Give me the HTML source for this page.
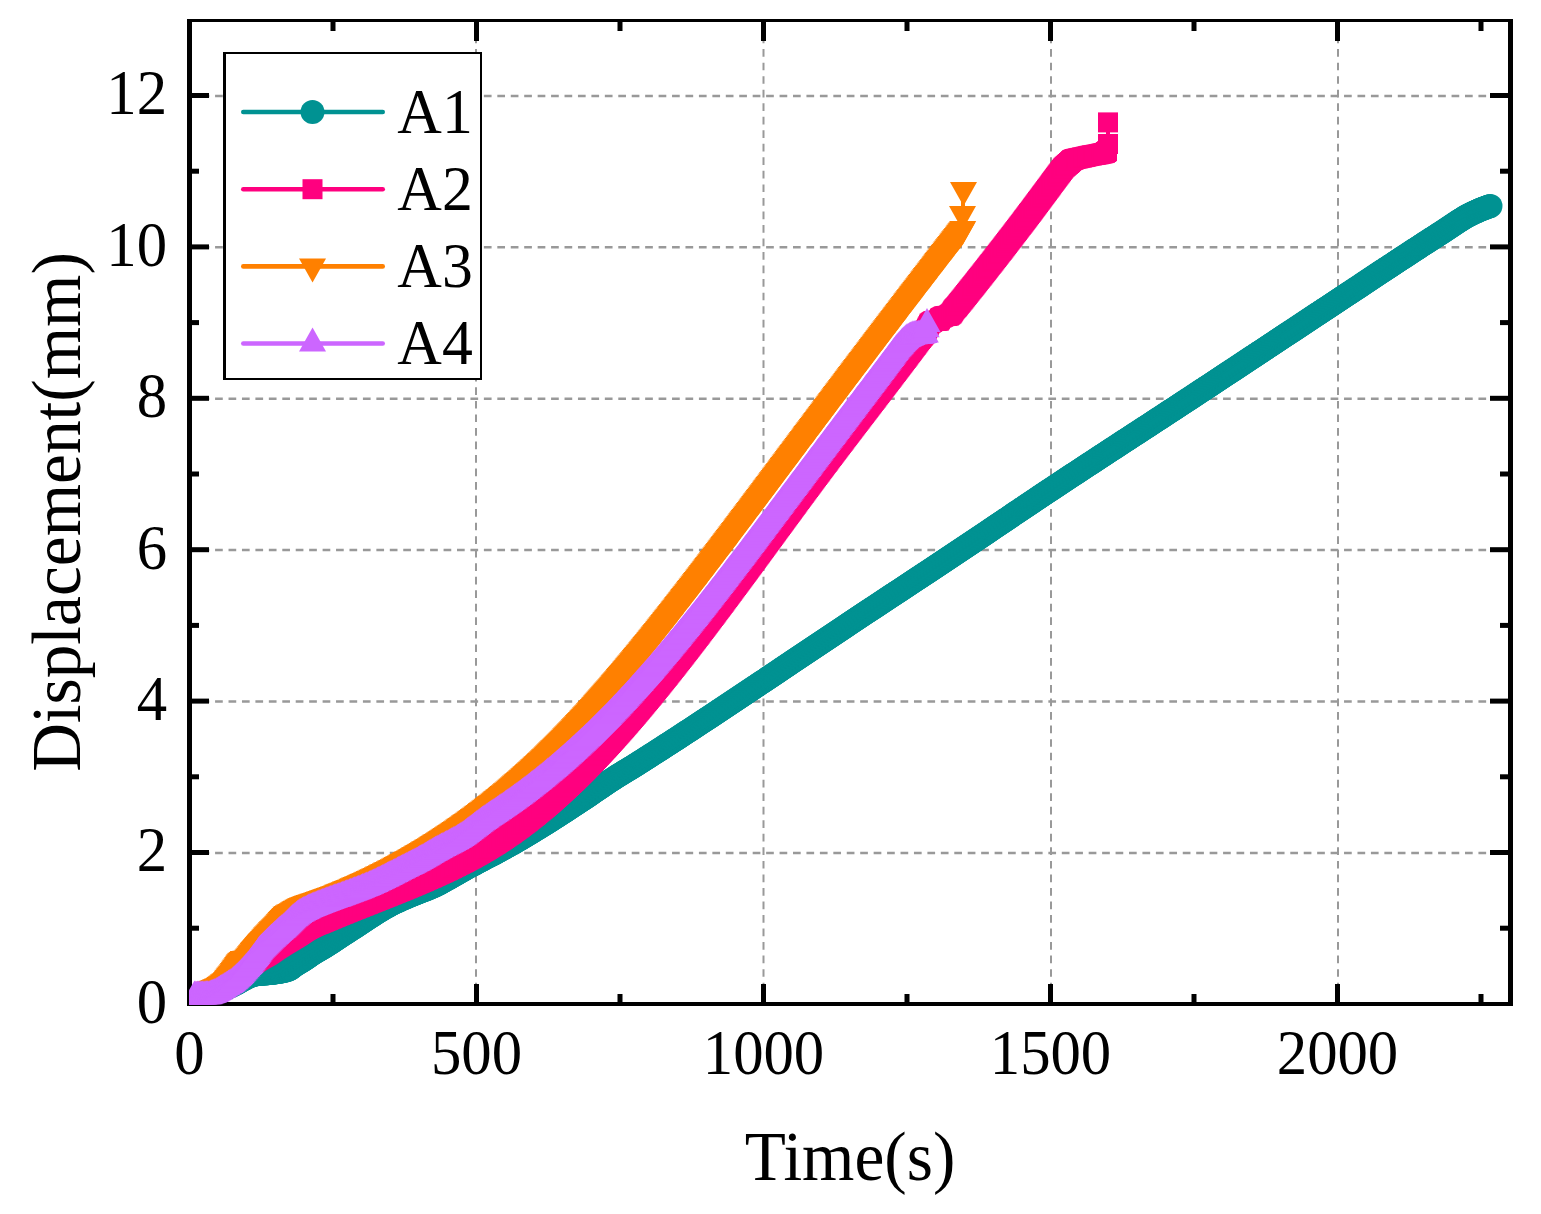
<!DOCTYPE html>
<html lang="en"><head><meta charset="utf-8"><title>Displacement vs Time</title>
<style>html,body{margin:0;padding:0;background:#fff}svg{display:block}text{font-family:"Liberation Serif","Times New Roman",serif;fill:#000}.tk{font-size:62px}.ti{font-size:68px}.lg{font-size:63px}</style></head><body>
<svg width="1541" height="1214" viewBox="0 0 1541 1214">
<rect width="1541" height="1214" fill="#fff"/>
<defs>
<clipPath id="frame"><rect x="189" y="19" width="1324" height="986"/></clipPath>
<marker id="m1" markerUnits="userSpaceOnUse" markerWidth="26" markerHeight="26" refX="13" refY="13" overflow="visible"><circle cx="13" cy="13" r="12" fill="#009292"/></marker>
<marker id="m2" markerUnits="userSpaceOnUse" markerWidth="22" markerHeight="22" refX="11" refY="11" overflow="visible"><rect x="1" y="1" width="20" height="20" fill="#ff007f"/></marker>
<marker id="m3" markerUnits="userSpaceOnUse" markerWidth="30" markerHeight="30" refX="15" refY="15" overflow="visible"><path d="M1.50 7.00H28.50L15 31.00Z" fill="#ff8000"/></marker>
<marker id="m4" markerUnits="userSpaceOnUse" markerWidth="30" markerHeight="30" refX="15" refY="15" overflow="visible"><path d="M1.50 23.00H28.50L15 -1.00Z" fill="#cc66ff"/></marker>
</defs>
<g stroke="#999" stroke-width="2.5" fill="none" stroke-dasharray="7.7 5.74">
<path d="M188.2 852.9H1508"/>
<path d="M188.2 701.5H1508"/>
<path d="M188.2 550.1H1508"/>
<path d="M188.2 398.7H1508"/>
<path d="M188.2 247.3H1508"/>
<path d="M188.2 95.9H1508"/>
</g>
<g stroke="#999" stroke-width="2" fill="none" stroke-dasharray="7.7 5.83">
<path d="M476.0 1003.9V22"/>
<path d="M763.5 1003.9V22"/>
<path d="M1051.0 1003.9V22"/>
<path d="M1338.0 1003.9V22"/>
</g>
<g fill="#000">
<rect x="187" y="19" width="5" height="987"/>
<rect x="1508" y="19" width="5" height="987"/>
<rect x="187" y="19" width="1326" height="3"/>
<rect x="187" y="1002" width="1326" height="4"/>
<rect x="330.5" y="994.0" width="5" height="8.0"/>
<rect x="330.5" y="22" width="5" height="9.0"/>
<rect x="474.0" y="984.0" width="5" height="18.0"/>
<rect x="474.0" y="22" width="5" height="19.0"/>
<rect x="617.5" y="994.0" width="5" height="8.0"/>
<rect x="617.5" y="22" width="5" height="9.0"/>
<rect x="761.0" y="984.0" width="5" height="18.0"/>
<rect x="761.0" y="22" width="5" height="19.0"/>
<rect x="904.5" y="994.0" width="5" height="8.0"/>
<rect x="904.5" y="22" width="5" height="9.0"/>
<rect x="1048.0" y="984.0" width="5" height="18.0"/>
<rect x="1048.0" y="22" width="5" height="19.0"/>
<rect x="1191.5" y="994.0" width="5" height="8.0"/>
<rect x="1191.5" y="22" width="5" height="9.0"/>
<rect x="1335.0" y="984.0" width="5" height="18.0"/>
<rect x="1335.0" y="22" width="5" height="19.0"/>
<rect x="1478.5" y="994.0" width="5" height="8.0"/>
<rect x="1478.5" y="22" width="5" height="9.0"/>
<rect x="192" y="925.7" width="7.0" height="5"/>
<rect x="1500.0" y="925.7" width="8.0" height="5"/>
<rect x="192" y="850.0" width="17.0" height="5"/>
<rect x="1490.0" y="850.0" width="18.0" height="5"/>
<rect x="192" y="774.3" width="7.0" height="5"/>
<rect x="1500.0" y="774.3" width="8.0" height="5"/>
<rect x="192" y="698.6" width="17.0" height="5"/>
<rect x="1490.0" y="698.6" width="18.0" height="5"/>
<rect x="192" y="622.9" width="7.0" height="5"/>
<rect x="1500.0" y="622.9" width="8.0" height="5"/>
<rect x="192" y="547.2" width="17.0" height="5"/>
<rect x="1490.0" y="547.2" width="18.0" height="5"/>
<rect x="192" y="471.5" width="7.0" height="5"/>
<rect x="1500.0" y="471.5" width="8.0" height="5"/>
<rect x="192" y="395.8" width="17.0" height="5"/>
<rect x="1490.0" y="395.8" width="18.0" height="5"/>
<rect x="192" y="320.1" width="7.0" height="5"/>
<rect x="1500.0" y="320.1" width="8.0" height="5"/>
<rect x="192" y="244.4" width="17.0" height="5"/>
<rect x="1490.0" y="244.4" width="18.0" height="5"/>
<rect x="192" y="168.7" width="7.0" height="5"/>
<rect x="1500.0" y="168.7" width="8.0" height="5"/>
<rect x="192" y="93.0" width="17.0" height="5"/>
<rect x="1490.0" y="93.0" width="18.0" height="5"/>
</g>
<text class="tk" text-anchor="middle" transform="translate(189.5 1073.8) scale(0.980 1.025)">0</text>
<text class="tk" text-anchor="middle" transform="translate(476.5 1073.8) scale(0.980 1.025)">500</text>
<text class="tk" text-anchor="middle" transform="translate(763.5 1073.8) scale(0.980 1.025)">1000</text>
<text class="tk" text-anchor="middle" transform="translate(1050.5 1073.8) scale(0.980 1.025)">1500</text>
<text class="tk" text-anchor="middle" transform="translate(1337.5 1073.8) scale(0.980 1.025)">2000</text>
<text class="tk" text-anchor="end" transform="translate(167.0 1022.8) scale(0.980 1.025)">0</text>
<text class="tk" text-anchor="end" transform="translate(167.0 871.4) scale(0.980 1.025)">2</text>
<text class="tk" text-anchor="end" transform="translate(167.0 720.0) scale(0.980 1.025)">4</text>
<text class="tk" text-anchor="end" transform="translate(167.0 568.6) scale(0.980 1.025)">6</text>
<text class="tk" text-anchor="end" transform="translate(167.0 417.2) scale(0.980 1.025)">8</text>
<text class="tk" text-anchor="end" transform="translate(167.0 265.8) scale(0.980 1.025)">10</text>
<text class="tk" text-anchor="end" transform="translate(167.0 114.4) scale(0.980 1.025)">12</text>
<text class="ti" text-anchor="middle" transform="translate(850.0 1179.8) scale(0.990 1.023)">Time(s)</text>
<text class="ti" text-anchor="middle" transform="translate(79.8 512.0) rotate(-90) scale(0.990 1.023)">Displacement(mm)</text>
<g clip-path="url(#frame)" fill="none" stroke-width="4" stroke-linejoin="round" shape-rendering="crispEdges">
<polyline stroke="#009292" marker-start="url(#m1)" marker-mid="url(#m1)" marker-end="url(#m1)" points="204.0,993.0 205.0,992.9 206.0,992.8 207.0,992.7 208.0,992.6 209.0,992.5 210.0,992.3 211.0,992.2 212.0,992.0 213.0,991.8 214.0,991.6 215.0,991.4 216.0,991.2 217.0,990.9 218.0,990.6 219.0,990.3 220.0,990.0 221.0,989.7 222.0,989.4 223.0,989.0 224.0,988.7 225.0,988.4 226.0,988.0 227.0,987.6 228.0,987.2 229.0,986.8 230.0,986.4 231.0,985.9 232.0,985.5 233.0,985.0 234.0,984.5 235.0,984.0 236.0,983.5 237.0,983.0 238.0,982.4 239.0,981.8 240.0,981.2 241.0,980.7 242.0,980.1 243.0,979.5 244.0,979.0 245.0,978.4 246.0,977.9 247.0,977.4 248.0,976.9 249.0,976.4 250.0,976.0 251.0,975.7 252.0,975.3 253.0,975.0 254.0,974.8 255.0,974.5 256.0,974.3 257.0,974.2 258.0,974.1 259.0,974.0 260.0,973.9 261.0,973.8 262.0,973.7 263.0,973.6 264.0,973.6 265.0,973.5 266.0,973.4 267.0,973.3 268.0,973.2 269.0,973.1 270.0,973.0 271.0,972.9 272.0,972.8 273.0,972.7 274.0,972.5 275.0,972.4 276.0,972.3 277.0,972.1 278.0,972.0 279.0,971.8 280.0,971.7 281.0,971.5 282.0,971.3 283.0,971.1 284.0,970.9 285.0,970.6 286.0,970.3 287.0,970.0 288.0,969.7 289.0,969.2 290.0,968.7 291.0,968.2 292.0,967.4 293.0,966.6 294.0,965.8 295.0,965.1 296.0,964.5 297.0,963.8 298.0,963.2 299.0,962.6 300.0,962.0 301.0,961.4 302.0,960.8 303.0,960.2 304.0,959.6 305.0,958.9 306.0,958.3 307.0,957.6 308.0,956.9 309.0,956.2 310.0,955.5 311.0,954.8 312.0,954.1 313.0,953.5 314.0,952.8 315.0,952.2 316.0,951.6 317.0,951.0 318.0,950.4 319.0,949.8 320.0,949.3 321.0,948.7 322.0,948.1 323.0,947.5 324.0,946.9 325.0,946.3 326.0,945.7 327.0,945.0 328.0,944.4 329.0,943.8 330.0,943.1 331.0,942.5 332.0,941.9 332.9,941.2 333.9,940.6 334.9,939.9 335.9,939.2 336.9,938.6 337.9,937.9 338.9,937.3 339.9,936.6 340.9,936.0 341.9,935.3 342.9,934.6 343.9,934.0 344.9,933.3 345.9,932.7 346.9,932.0 347.9,931.4 348.9,930.7 349.9,930.1 350.9,929.4 351.9,928.8 352.9,928.1 353.9,927.5 354.9,926.9 355.9,926.2 356.9,925.6 357.9,924.9 358.9,924.3 359.9,923.6 360.9,922.9 361.9,922.3 362.9,921.6 363.9,921.0 364.9,920.3 365.9,919.6 366.9,919.0 367.9,918.3 368.9,917.6 369.9,917.0 370.9,916.3 371.9,915.7 372.9,915.0 373.9,914.4 374.9,913.7 375.9,913.1 376.9,912.5 377.9,911.8 378.9,911.2 379.9,910.6 380.9,910.0 381.9,909.4 382.9,908.8 383.9,908.2 384.9,907.6 385.9,907.0 386.9,906.5 387.9,905.9 388.9,905.4 389.9,904.8 390.9,904.3 391.9,903.8 392.9,903.3 393.9,902.8 394.9,902.3 395.9,901.8 396.9,901.3 397.9,900.9 398.9,900.4 399.9,900.0 400.9,899.5 401.9,899.1 402.9,898.6 403.9,898.2 404.9,897.8 405.9,897.3 406.9,896.9 407.9,896.5 408.9,896.1 409.9,895.6 410.9,895.2 411.9,894.8 412.9,894.4 413.9,894.0 414.9,893.6 415.9,893.2 416.9,892.8 417.9,892.4 418.9,892.0 419.9,891.6 420.9,891.2 421.9,890.8 422.9,890.5 423.9,890.1 424.9,889.7 425.9,889.3 426.9,888.9 427.9,888.5 428.9,888.1 429.9,887.7 430.9,887.2 431.9,886.8 432.9,886.3 433.9,885.9 434.9,885.4 435.9,884.9 436.9,884.4 437.9,883.9 438.9,883.4 439.9,882.9 440.9,882.4 441.9,881.8 442.9,881.3 443.9,880.7 444.9,880.2 445.9,879.6 446.9,879.1 447.9,878.5 448.9,878.0 449.9,877.4 450.9,876.8 451.9,876.3 452.9,875.7 453.9,875.1 454.9,874.5 455.9,874.0 456.9,873.4 457.9,872.8 458.9,872.2 459.9,871.7 460.9,871.1 461.9,870.5 462.9,869.9 463.9,869.4 464.9,868.8 465.9,868.3 466.9,867.7 467.9,867.1 468.9,866.6 469.9,866.1 470.9,865.5 471.9,865.0 472.9,864.4 473.9,863.9 474.9,863.4 475.9,862.9 476.9,862.3 477.9,861.8 478.9,861.3 479.9,860.8 480.9,860.2 481.9,859.7 482.9,859.2 483.9,858.7 484.9,858.1 485.9,857.6 486.9,857.1 487.9,856.6 488.9,856.1 489.9,855.5 490.9,855.0 491.9,854.5 492.9,854.0 493.9,853.4 494.9,852.9 495.9,852.4 496.9,851.8 497.9,851.3 498.9,850.8 499.9,850.2 500.9,849.7 501.9,849.2 502.9,848.6 503.9,848.1 504.9,847.5 505.9,847.0 506.9,846.4 507.9,845.8 508.9,845.3 509.9,844.7 510.9,844.1 511.9,843.6 512.9,843.0 513.9,842.4 514.9,841.9 515.9,841.3 516.9,840.7 517.9,840.1 518.9,839.5 519.9,838.9 520.9,838.4 521.9,837.8 522.9,837.2 523.9,836.6 524.9,836.0 525.9,835.4 526.9,834.8 527.9,834.2 528.9,833.6 529.9,833.0 530.9,832.4 531.9,831.8 532.9,831.2 533.9,830.6 534.9,829.9 535.9,829.3 536.9,828.7 537.9,828.1 538.9,827.5 539.9,826.9 540.9,826.3 541.9,825.6 542.9,825.0 543.9,824.4 544.9,823.8 545.9,823.2 546.9,822.5 547.9,821.9 548.9,821.3 549.9,820.7 550.9,820.0 551.9,819.4 552.9,818.8 553.9,818.1 554.9,817.5 555.9,816.8 556.9,816.2 557.9,815.6 558.9,814.9 559.9,814.3 560.9,813.6 561.9,813.0 562.9,812.3 563.9,811.7 564.9,811.0 565.9,810.4 566.9,809.7 567.9,809.1 568.9,808.4 569.9,807.8 570.9,807.1 571.9,806.4 572.9,805.8 573.9,805.1 574.9,804.5 575.9,803.8 576.9,803.2 577.9,802.5 578.9,801.8 579.9,801.2 580.9,800.5 581.9,799.8 582.9,799.2 583.9,798.5 584.9,797.9 585.9,797.2 586.9,796.5 587.9,795.9 588.9,795.2 589.9,794.5 590.8,793.9 591.8,793.2 592.8,792.5 593.8,791.8 594.8,791.1 595.8,790.5 596.8,789.8 597.8,789.1 598.8,788.4 599.8,787.7 600.8,787.0 601.8,786.4 602.8,785.7 603.8,785.0 604.8,784.3 605.8,783.7 606.8,783.0 607.8,782.3 608.8,781.6 609.8,781.0 610.8,780.3 611.8,779.7 612.8,779.0 613.8,778.4 614.8,777.7 615.8,777.1 616.8,776.5 617.8,775.8 618.8,775.2 619.8,774.6 620.8,774.0 621.8,773.4 622.8,772.8 623.8,772.1 624.8,771.5 625.8,770.9 626.8,770.3 627.8,769.7 628.8,769.1 629.8,768.5 630.8,767.9 631.8,767.3 632.8,766.7 633.8,766.0 634.8,765.4 635.8,764.8 636.8,764.2 637.8,763.5 638.8,762.9 639.8,762.3 640.8,761.6 641.8,761.0 642.8,760.4 643.8,759.7 644.8,759.1 645.8,758.5 646.8,757.8 647.8,757.2 648.8,756.5 649.8,755.9 650.8,755.3 651.8,754.6 652.8,754.0 653.8,753.4 654.8,752.7 655.8,752.1 656.8,751.4 657.8,750.8 658.8,750.1 659.8,749.5 660.8,748.9 661.8,748.2 662.8,747.6 663.8,746.9 664.8,746.3 665.8,745.6 666.8,745.0 667.8,744.3 668.8,743.7 669.8,743.0 670.8,742.4 671.8,741.7 672.8,741.1 673.8,740.5 674.8,739.8 675.8,739.2 676.8,738.5 677.8,737.9 678.8,737.2 679.8,736.6 680.8,735.9 681.8,735.2 682.8,734.6 683.8,733.9 684.8,733.3 685.8,732.6 686.8,732.0 687.8,731.3 688.8,730.7 689.8,730.0 690.8,729.4 691.8,728.7 692.8,728.1 693.8,727.4 694.8,726.7 695.8,726.1 696.8,725.4 697.8,724.8 698.8,724.1 699.8,723.5 700.8,722.8 701.8,722.1 702.8,721.5 703.8,720.8 704.8,720.2 705.8,719.5 706.8,718.8 707.8,718.2 708.8,717.5 709.8,716.9 710.8,716.2 711.8,715.5 712.8,714.9 713.8,714.2 714.8,713.6 715.8,712.9 716.8,712.2 717.8,711.6 718.8,710.9 719.8,710.2 720.8,709.6 721.8,708.9 722.8,708.3 723.8,707.6 724.8,706.9 725.8,706.3 726.8,705.6 727.8,704.9 728.8,704.3 729.8,703.6 730.8,702.9 731.8,702.3 732.8,701.6 733.8,700.9 734.8,700.3 735.8,699.6 736.8,698.9 737.8,698.3 738.8,697.6 739.8,696.9 740.8,696.3 741.8,695.6 742.8,694.9 743.8,694.3 744.8,693.6 745.8,692.9 746.8,692.3 747.8,691.6 748.8,690.9 749.8,690.3 750.8,689.6 751.8,688.9 752.8,688.3 753.8,687.6 754.8,686.9 755.8,686.3 756.8,685.6 757.8,684.9 758.8,684.3 759.8,683.6 760.8,682.9 761.8,682.2 762.8,681.6 763.8,680.9 764.8,680.2 765.8,679.6 766.8,678.9 767.8,678.2 768.8,677.6 769.8,676.9 770.8,676.2 771.8,675.5 772.8,674.9 773.8,674.2 774.8,673.5 775.8,672.9 776.8,672.2 777.8,671.5 778.8,670.9 779.8,670.2 780.8,669.5 781.8,668.8 782.8,668.2 783.8,667.5 784.8,666.8 785.8,666.2 786.8,665.5 787.8,664.8 788.8,664.2 789.8,663.5 790.8,662.8 791.8,662.1 792.8,661.5 793.8,660.8 794.8,660.1 795.8,659.5 796.8,658.8 797.8,658.1 798.8,657.4 799.8,656.8 800.8,656.1 801.8,655.4 802.8,654.8 803.8,654.1 804.8,653.4 805.8,652.8 806.8,652.1 807.8,651.4 808.8,650.7 809.8,650.1 810.8,649.4 811.8,648.7 812.8,648.1 813.8,647.4 814.8,646.7 815.8,646.1 816.8,645.4 817.8,644.7 818.8,644.1 819.8,643.4 820.8,642.7 821.8,642.1 822.8,641.4 823.8,640.7 824.8,640.0 825.8,639.4 826.8,638.7 827.8,638.0 828.8,637.4 829.8,636.7 830.8,636.0 831.8,635.4 832.8,634.7 833.8,634.0 834.8,633.4 835.8,632.7 836.8,632.0 837.8,631.4 838.8,630.7 839.8,630.0 840.8,629.4 841.8,628.7 842.8,628.0 843.8,627.4 844.8,626.7 845.8,626.1 846.8,625.4 847.7,624.7 848.7,624.1 849.7,623.4 850.7,622.7 851.7,622.1 852.7,621.4 853.7,620.7 854.7,620.1 855.7,619.4 856.7,618.8 857.7,618.1 858.7,617.4 859.7,616.8 860.7,616.1 861.7,615.4 862.7,614.8 863.7,614.1 864.7,613.5 865.7,612.8 866.7,612.1 867.7,611.5 868.7,610.8 869.7,610.2 870.7,609.5 871.7,608.8 872.7,608.2 873.7,607.5 874.7,606.9 875.7,606.2 876.7,605.5 877.7,604.9 878.7,604.2 879.7,603.6 880.7,602.9 881.7,602.2 882.7,601.6 883.7,600.9 884.7,600.3 885.7,599.6 886.7,598.9 887.7,598.3 888.7,597.6 889.7,597.0 890.7,596.3 891.7,595.6 892.7,595.0 893.7,594.3 894.7,593.7 895.7,593.0 896.7,592.3 897.7,591.7 898.7,591.0 899.7,590.4 900.7,589.7 901.7,589.0 902.7,588.4 903.7,587.7 904.7,587.1 905.7,586.4 906.7,585.7 907.7,585.1 908.7,584.4 909.7,583.8 910.7,583.1 911.7,582.4 912.7,581.8 913.7,581.1 914.7,580.5 915.7,579.8 916.7,579.1 917.7,578.5 918.7,577.8 919.7,577.2 920.7,576.5 921.7,575.8 922.7,575.2 923.7,574.5 924.7,573.8 925.7,573.2 926.7,572.5 927.7,571.9 928.7,571.2 929.7,570.5 930.7,569.9 931.7,569.2 932.7,568.6 933.7,567.9 934.7,567.2 935.7,566.6 936.7,565.9 937.7,565.2 938.7,564.6 939.7,563.9 940.7,563.3 941.7,562.6 942.7,561.9 943.7,561.3 944.7,560.6 945.7,559.9 946.7,559.3 947.7,558.6 948.7,557.9 949.7,557.3 950.7,556.6 951.7,556.0 952.7,555.3 953.7,554.6 954.7,554.0 955.7,553.3 956.7,552.6 957.7,552.0 958.7,551.3 959.7,550.6 960.7,550.0 961.7,549.3 962.7,548.6 963.7,548.0 964.7,547.3 965.7,546.6 966.7,546.0 967.7,545.3 968.7,544.6 969.7,544.0 970.7,543.3 971.7,542.6 972.7,541.9 973.7,541.3 974.7,540.6 975.7,539.9 976.7,539.3 977.7,538.6 978.7,537.9 979.7,537.2 980.7,536.6 981.7,535.9 982.7,535.2 983.7,534.6 984.7,533.9 985.7,533.2 986.7,532.5 987.7,531.9 988.7,531.2 989.7,530.5 990.7,529.8 991.7,529.2 992.7,528.5 993.7,527.8 994.7,527.1 995.7,526.5 996.7,525.8 997.7,525.1 998.7,524.4 999.7,523.8 1000.7,523.1 1001.7,522.4 1002.7,521.7 1003.7,521.1 1004.7,520.4 1005.7,519.7 1006.7,519.0 1007.7,518.4 1008.7,517.7 1009.7,517.0 1010.7,516.3 1011.7,515.7 1012.7,515.0 1013.7,514.3 1014.7,513.6 1015.7,513.0 1016.7,512.3 1017.7,511.6 1018.7,510.9 1019.7,510.3 1020.7,509.6 1021.7,508.9 1022.7,508.3 1023.7,507.6 1024.7,506.9 1025.7,506.2 1026.7,505.6 1027.7,504.9 1028.7,504.2 1029.7,503.5 1030.7,502.9 1031.7,502.2 1032.7,501.5 1033.7,500.9 1034.7,500.2 1035.7,499.5 1036.7,498.9 1037.7,498.2 1038.7,497.5 1039.7,496.8 1040.7,496.2 1041.7,495.5 1042.7,494.8 1043.7,494.2 1044.7,493.5 1045.7,492.8 1046.7,492.2 1047.7,491.5 1048.7,490.8 1049.7,490.2 1050.7,489.5 1051.7,488.9 1052.7,488.2 1053.7,487.5 1054.7,486.9 1055.7,486.2 1056.7,485.5 1057.7,484.9 1058.7,484.2 1059.7,483.6 1060.7,482.9 1061.7,482.2 1062.7,481.6 1063.7,480.9 1064.7,480.3 1065.7,479.6 1066.7,478.9 1067.7,478.3 1068.7,477.6 1069.7,477.0 1070.7,476.3 1071.7,475.6 1072.7,475.0 1073.7,474.3 1074.7,473.7 1075.7,473.0 1076.7,472.4 1077.7,471.7 1078.7,471.0 1079.7,470.4 1080.7,469.7 1081.7,469.1 1082.7,468.4 1083.7,467.8 1084.7,467.1 1085.7,466.4 1086.7,465.8 1087.7,465.1 1088.7,464.5 1089.7,463.8 1090.7,463.2 1091.7,462.5 1092.7,461.9 1093.7,461.2 1094.7,460.6 1095.7,459.9 1096.7,459.3 1097.7,458.6 1098.7,457.9 1099.7,457.3 1100.7,456.6 1101.7,456.0 1102.7,455.3 1103.7,454.7 1104.6,454.0 1105.6,453.4 1106.6,452.7 1107.6,452.1 1108.6,451.4 1109.6,450.8 1110.6,450.1 1111.6,449.5 1112.6,448.8 1113.6,448.2 1114.6,447.5 1115.6,446.9 1116.6,446.2 1117.6,445.5 1118.6,444.9 1119.6,444.2 1120.6,443.6 1121.6,442.9 1122.6,442.3 1123.6,441.6 1124.6,441.0 1125.6,440.3 1126.6,439.7 1127.6,439.0 1128.6,438.4 1129.6,437.7 1130.6,437.1 1131.6,436.4 1132.6,435.8 1133.6,435.1 1134.6,434.5 1135.6,433.8 1136.6,433.2 1137.6,432.5 1138.6,431.9 1139.6,431.2 1140.6,430.6 1141.6,429.9 1142.6,429.3 1143.6,428.6 1144.6,428.0 1145.6,427.3 1146.6,426.7 1147.6,426.0 1148.6,425.4 1149.6,424.7 1150.6,424.0 1151.6,423.4 1152.6,422.7 1153.6,422.1 1154.6,421.4 1155.6,420.8 1156.6,420.1 1157.6,419.5 1158.6,418.8 1159.6,418.2 1160.6,417.5 1161.6,416.9 1162.6,416.2 1163.6,415.6 1164.6,414.9 1165.6,414.3 1166.6,413.6 1167.6,413.0 1168.6,412.3 1169.6,411.6 1170.6,411.0 1171.6,410.3 1172.6,409.7 1173.6,409.0 1174.6,408.4 1175.6,407.7 1176.6,407.1 1177.6,406.4 1178.6,405.8 1179.6,405.1 1180.6,404.4 1181.6,403.8 1182.6,403.1 1183.6,402.5 1184.6,401.8 1185.6,401.2 1186.6,400.5 1187.6,399.8 1188.6,399.2 1189.6,398.5 1190.6,397.9 1191.6,397.2 1192.6,396.6 1193.6,395.9 1194.6,395.2 1195.6,394.6 1196.6,393.9 1197.6,393.3 1198.6,392.6 1199.6,391.9 1200.6,391.3 1201.6,390.6 1202.6,390.0 1203.6,389.3 1204.6,388.7 1205.6,388.0 1206.6,387.3 1207.6,386.7 1208.6,386.0 1209.6,385.4 1210.6,384.7 1211.6,384.0 1212.6,383.4 1213.6,382.7 1214.6,382.1 1215.6,381.4 1216.6,380.7 1217.6,380.1 1218.6,379.4 1219.6,378.8 1220.6,378.1 1221.6,377.4 1222.6,376.8 1223.6,376.1 1224.6,375.5 1225.6,374.8 1226.6,374.1 1227.6,373.5 1228.6,372.8 1229.6,372.2 1230.6,371.5 1231.6,370.8 1232.6,370.2 1233.6,369.5 1234.6,368.9 1235.6,368.2 1236.6,367.5 1237.6,366.9 1238.6,366.2 1239.6,365.6 1240.6,364.9 1241.6,364.2 1242.6,363.6 1243.6,362.9 1244.6,362.3 1245.6,361.6 1246.6,360.9 1247.6,360.3 1248.6,359.6 1249.6,359.0 1250.6,358.3 1251.6,357.6 1252.6,357.0 1253.6,356.3 1254.6,355.7 1255.6,355.0 1256.6,354.3 1257.6,353.7 1258.6,353.0 1259.6,352.3 1260.6,351.7 1261.6,351.0 1262.6,350.4 1263.6,349.7 1264.6,349.0 1265.6,348.4 1266.6,347.7 1267.6,347.1 1268.6,346.4 1269.6,345.7 1270.6,345.1 1271.6,344.4 1272.6,343.7 1273.6,343.1 1274.6,342.4 1275.6,341.8 1276.6,341.1 1277.6,340.4 1278.6,339.8 1279.6,339.1 1280.6,338.5 1281.6,337.8 1282.6,337.1 1283.6,336.5 1284.6,335.8 1285.6,335.1 1286.6,334.5 1287.6,333.8 1288.6,333.2 1289.6,332.5 1290.6,331.8 1291.6,331.2 1292.6,330.5 1293.6,329.9 1294.6,329.2 1295.6,328.5 1296.6,327.9 1297.6,327.2 1298.6,326.5 1299.6,325.9 1300.6,325.2 1301.6,324.6 1302.6,323.9 1303.6,323.2 1304.6,322.6 1305.6,321.9 1306.6,321.3 1307.6,320.6 1308.6,319.9 1309.6,319.3 1310.6,318.6 1311.6,317.9 1312.6,317.3 1313.6,316.6 1314.6,316.0 1315.6,315.3 1316.6,314.6 1317.6,314.0 1318.6,313.3 1319.6,312.7 1320.6,312.0 1321.6,311.3 1322.6,310.7 1323.6,310.0 1324.6,309.3 1325.6,308.7 1326.6,308.0 1327.6,307.4 1328.6,306.7 1329.6,306.0 1330.6,305.4 1331.6,304.7 1332.6,304.1 1333.6,303.4 1334.6,302.7 1335.6,302.1 1336.6,301.4 1337.6,300.8 1338.6,300.1 1339.6,299.4 1340.6,298.8 1341.6,298.1 1342.6,297.5 1343.6,296.8 1344.6,296.1 1345.6,295.5 1346.6,294.8 1347.6,294.1 1348.6,293.5 1349.6,292.8 1350.6,292.2 1351.6,291.5 1352.6,290.8 1353.6,290.2 1354.6,289.5 1355.6,288.8 1356.6,288.2 1357.6,287.5 1358.6,286.9 1359.6,286.2 1360.6,285.5 1361.6,284.9 1362.5,284.2 1363.5,283.5 1364.5,282.9 1365.5,282.2 1366.5,281.6 1367.5,280.9 1368.5,280.2 1369.5,279.6 1370.5,278.9 1371.5,278.3 1372.5,277.6 1373.5,276.9 1374.5,276.3 1375.5,275.6 1376.5,274.9 1377.5,274.3 1378.5,273.6 1379.5,273.0 1380.5,272.3 1381.5,271.6 1382.5,271.0 1383.5,270.3 1384.5,269.7 1385.5,269.0 1386.5,268.3 1387.5,267.7 1388.5,267.0 1389.5,266.4 1390.5,265.7 1391.5,265.1 1392.5,264.4 1393.5,263.7 1394.5,263.1 1395.5,262.4 1396.5,261.8 1397.5,261.1 1398.5,260.5 1399.5,259.8 1400.5,259.1 1401.5,258.5 1402.5,257.8 1403.5,257.2 1404.5,256.5 1405.5,255.9 1406.5,255.2 1407.5,254.6 1408.5,253.9 1409.5,253.3 1410.5,252.6 1411.5,252.0 1412.5,251.3 1413.5,250.6 1414.5,250.0 1415.5,249.3 1416.5,248.7 1417.5,248.0 1418.5,247.4 1419.5,246.7 1420.5,246.1 1421.5,245.4 1422.5,244.8 1423.5,244.1 1424.5,243.5 1425.5,242.8 1426.5,242.2 1427.5,241.5 1428.5,240.9 1429.5,240.2 1430.5,239.6 1431.5,238.9 1432.5,238.3 1433.5,237.7 1434.5,237.0 1435.5,236.4 1436.5,235.7 1437.5,235.1 1438.5,234.4 1439.5,233.8 1440.5,233.2 1441.5,232.5 1442.5,231.9 1443.5,231.2 1444.5,230.6 1445.5,229.9 1446.5,229.3 1447.5,228.6 1448.5,227.9 1449.5,227.3 1450.5,226.6 1451.5,225.9 1452.5,225.3 1453.5,224.6 1454.5,223.9 1455.5,223.2 1456.5,222.6 1457.5,221.9 1458.5,221.3 1459.5,220.6 1460.5,220.0 1461.5,219.4 1462.5,218.7 1463.5,218.1 1464.5,217.5 1465.5,216.9 1466.5,216.3 1467.5,215.8 1468.5,215.3 1469.5,214.7 1470.5,214.2 1471.5,213.7 1472.5,213.2 1473.5,212.7 1474.5,212.3 1475.5,211.8 1476.5,211.4 1477.5,210.9 1478.5,210.5 1479.5,210.0 1480.5,209.6 1481.5,209.2 1482.5,208.8 1483.5,208.4 1484.5,208.0 1485.5,207.7 1486.5,207.3 1487.5,206.9 1488.5,206.6 1489.5,206.2 1490.5,205.9"/>
<polyline stroke="#ff007f" marker-start="url(#m2)" marker-mid="url(#m2)" marker-end="url(#m2)" points="204.0,994.0 205.5,993.9 207.0,993.8 208.0,993.6 209.0,993.5 209.9,993.3 210.9,993.0 211.9,992.7 212.9,992.3 213.9,991.9 214.9,991.5 215.9,991.0 216.9,990.5 217.9,990.0 218.9,989.4 219.9,988.7 220.9,988.1 221.8,987.4 222.8,986.8 223.8,986.1 224.8,985.5 225.8,984.9 226.8,984.3 227.8,983.7 228.8,983.1 229.8,982.5 230.8,981.9 231.8,981.1 232.8,980.4 233.7,979.6 234.7,978.7 235.7,977.9 236.7,977.0 237.7,976.1 238.7,975.2 239.7,974.3 240.7,973.4 241.7,972.5 242.7,971.6 243.7,970.8 244.6,969.9 245.6,969.0 246.6,968.2 247.6,967.3 248.6,966.5 249.6,965.7 250.6,964.9 251.6,964.1 252.6,963.3 253.6,962.5 254.6,961.8 255.6,961.1 256.5,960.5 257.5,959.8 258.5,959.3 259.5,958.7 260.5,958.1 261.5,957.6 262.5,957.0 263.5,956.5 264.5,955.9 265.5,955.3 266.5,954.8 267.5,954.1 268.4,953.5 269.4,952.9 270.4,952.2 271.4,951.5 272.4,950.8 273.4,950.1 274.4,949.4 275.4,948.7 276.4,948.1 277.4,947.4 278.4,946.8 279.4,946.2 280.3,945.6 281.3,944.9 282.3,944.3 283.3,943.7 284.3,943.1 285.3,942.5 286.3,941.9 287.3,941.3 288.3,940.7 289.3,940.1 290.3,939.5 291.2,938.9 292.2,938.3 293.2,937.8 294.2,937.2 295.2,936.5 296.2,935.9 297.2,935.3 298.2,934.7 299.2,934.0 300.2,933.3 301.2,932.7 302.2,932.0 303.1,931.3 304.1,930.7 305.1,930.1 306.1,929.5 307.1,929.0 308.1,928.4 309.1,927.9 310.1,927.4 311.1,926.9 312.1,926.4 313.1,925.9 314.1,925.5 315.0,925.0 316.0,924.6 317.0,924.2 318.0,923.8 319.0,923.5 320.0,923.2 321.3,922.7 322.7,922.1 324.0,921.5 325.3,921.0 326.7,920.4 328.0,919.8 329.3,919.3 330.7,918.7 332.0,918.2 333.3,917.6 334.7,917.1 336.0,916.5 337.3,916.0 338.7,915.4 340.0,914.9 341.3,914.3 342.7,913.8 344.0,913.3 345.3,912.7 346.7,912.2 348.0,911.6 349.3,911.1 350.7,910.6 352.0,910.0 353.3,909.5 354.7,909.0 356.0,908.5 357.3,907.9 358.7,907.4 360.0,906.9 361.3,906.3 362.7,905.8 364.0,905.3 365.3,904.7 366.7,904.2 368.0,903.7 369.3,903.2 370.7,902.6 372.0,902.1 373.3,901.6 374.7,901.1 376.0,900.5 377.3,900.0 378.7,899.5 380.0,898.9 381.3,898.4 382.7,897.9 384.0,897.3 385.3,896.8 386.7,896.3 388.0,895.7 389.3,895.2 390.7,894.7 392.0,894.1 393.3,893.6 394.7,893.1 396.0,892.5 397.3,892.0 398.7,891.4 400.0,890.9 401.3,890.4 402.7,889.8 404.0,889.3 405.3,888.7 406.7,888.2 408.0,887.6 409.3,887.1 410.7,886.5 412.0,885.9 413.3,885.4 414.7,884.8 416.0,884.2 417.3,883.7 418.7,883.1 420.0,882.5 421.3,882.0 422.7,881.4 424.0,880.8 425.3,880.2 426.7,879.6 428.0,879.0 429.3,878.4 430.7,877.9 432.0,877.3 433.3,876.7 434.7,876.0 436.0,875.4 437.3,874.8 438.7,874.2 440.0,873.6 441.3,873.0 442.7,872.4 444.0,871.7 445.3,871.1 446.7,870.5 448.0,869.8 449.3,869.2 450.7,868.5 452.0,867.9 453.3,867.2 454.7,866.5 456.0,865.9 457.3,865.2 458.7,864.5 460.0,863.8 461.3,863.2 462.7,862.5 464.0,861.8 465.1,861.2 466.3,860.6 467.4,859.9 468.6,859.3 469.7,858.7 470.9,858.1 472.0,857.5 473.1,856.8 474.3,856.2 475.4,855.6 476.6,854.9 477.7,854.3 478.9,853.6 480.0,853.0 481.1,852.3 482.3,851.6 483.4,851.0 484.6,850.3 485.7,849.6 486.9,848.9 488.0,848.2 489.1,847.5 490.3,846.8 491.4,846.1 492.6,845.4 493.7,844.7 494.9,844.0 496.0,843.3 497.1,842.5 498.3,841.8 499.4,841.0 500.6,840.3 501.7,839.5 502.9,838.8 504.0,838.0 505.1,837.2 506.3,836.4 507.4,835.6 508.6,834.8 509.7,834.1 510.9,833.3 512.0,832.5 513.1,831.6 514.3,830.8 515.4,830.0 516.6,829.2 517.7,828.3 518.9,827.5 520.0,826.7 521.1,825.8 522.3,824.9 523.4,824.0 524.6,823.2 525.7,822.3 526.9,821.4 528.0,820.6 529.1,819.6 530.3,818.7 531.4,817.8 532.6,816.9 533.7,816.0 534.9,815.1 536.0,814.2 537.1,813.2 538.3,812.3 539.4,811.3 540.6,810.4 541.7,809.4 542.9,808.5 544.0,807.5 545.0,806.7 546.0,805.8 547.0,804.9 548.0,804.1 549.0,803.2 550.0,802.4 551.0,801.5 552.0,800.6 553.0,799.7 554.0,798.8 555.0,797.9 556.0,797.0 557.0,796.1 558.0,795.2 559.0,794.3 560.0,793.4 561.0,792.5 562.0,791.6 563.0,790.7 564.0,789.7 565.0,788.8 566.0,787.9 567.0,786.9 568.0,786.0 569.0,785.1 570.0,784.1 571.0,783.1 572.0,782.2 573.0,781.2 574.0,780.3 575.0,779.3 576.0,778.3 577.0,777.3 578.0,776.4 579.0,775.4 580.0,774.4 581.0,773.4 582.0,772.4 583.0,771.4 584.0,770.4 585.0,769.4 586.0,768.4 587.0,767.3 588.0,766.3 589.0,765.3 590.0,764.3 591.0,763.3 592.0,762.2 593.0,761.2 594.0,760.1 595.0,759.1 596.0,758.0 597.0,757.0 598.0,755.9 599.0,754.9 600.0,753.8 601.0,752.8 602.0,751.7 603.0,750.6 604.0,749.5 605.0,748.4 606.0,747.4 607.0,746.3 608.0,745.2 609.0,744.1 610.0,743.0 611.0,741.9 612.0,740.8 613.0,739.7 614.0,738.6 615.0,737.5 616.0,736.3 616.9,735.3 617.8,734.3 618.7,733.3 619.6,732.3 620.4,731.3 621.3,730.3 622.2,729.3 623.1,728.3 624.0,727.3 624.9,726.3 625.8,725.2 626.7,724.2 627.6,723.2 628.4,722.2 629.3,721.1 630.2,720.1 631.1,719.1 632.0,718.0 632.9,717.0 633.8,716.0 634.7,714.9 635.6,713.9 636.4,712.8 637.3,711.8 638.2,710.7 639.1,709.7 640.0,708.6 640.9,707.5 641.8,706.5 642.7,705.4 643.6,704.3 644.4,703.3 645.3,702.2 646.2,701.1 647.1,700.1 648.0,699.0 648.9,697.9 649.8,696.8 650.7,695.8 651.6,694.7 652.4,693.6 653.3,692.5 654.2,691.4 655.1,690.3 656.0,689.2 656.9,688.1 657.8,687.0 658.7,685.9 659.6,684.8 660.4,683.7 661.3,682.6 662.2,681.5 663.1,680.4 664.0,679.3 664.9,678.2 665.8,677.1 666.7,676.0 667.6,674.9 668.4,673.7 669.3,672.6 670.2,671.5 671.1,670.4 672.0,669.3 672.9,668.1 673.8,667.0 674.7,665.9 675.6,664.7 676.4,663.6 677.3,662.5 678.2,661.3 679.1,660.2 680.0,659.1 680.9,657.9 681.8,656.8 682.7,655.6 683.6,654.5 684.4,653.4 685.3,652.2 686.2,651.1 687.1,649.9 688.0,648.8 688.9,647.6 689.8,646.5 690.7,645.3 691.6,644.1 692.4,643.0 693.3,641.8 694.2,640.7 695.1,639.5 696.0,638.4 696.9,637.2 697.8,636.0 698.7,634.9 699.6,633.7 700.4,632.5 701.3,631.3 702.2,630.2 703.1,629.0 704.0,627.8 704.9,626.7 705.8,625.5 706.7,624.3 707.6,623.1 708.4,621.9 709.3,620.8 710.2,619.6 711.1,618.4 712.0,617.2 712.9,616.0 713.8,614.9 714.7,613.7 715.6,612.5 716.4,611.3 717.3,610.1 718.2,608.9 719.1,607.7 720.0,606.6 720.9,605.4 721.8,604.2 722.7,603.0 723.6,601.8 724.4,600.6 725.3,599.4 726.2,598.2 727.1,597.0 728.0,595.8 728.9,594.6 729.8,593.4 730.7,592.2 731.6,591.0 732.4,589.8 733.3,588.6 734.2,587.4 735.1,586.2 736.0,585.0 736.9,583.8 737.8,582.6 738.7,581.4 739.6,580.2 740.4,579.0 741.3,577.8 742.2,576.6 743.1,575.4 744.0,574.2 744.8,573.1 745.6,572.0 746.4,570.9 747.2,569.8 748.0,568.7 748.8,567.6 749.6,566.5 750.4,565.4 751.2,564.4 752.0,563.3 752.8,562.2 753.6,561.1 754.4,560.0 755.2,558.9 756.0,557.8 756.8,556.7 757.6,555.6 758.4,554.5 759.2,553.5 760.0,552.4 760.8,551.3 761.6,550.2 762.4,549.1 763.2,548.0 764.0,546.9 764.8,545.8 765.6,544.7 766.4,543.6 767.2,542.5 768.0,541.4 768.8,540.3 769.6,539.3 770.4,538.2 771.2,537.1 772.0,536.0 772.8,534.9 773.6,533.8 774.4,532.7 775.2,531.6 776.0,530.5 776.8,529.4 777.6,528.3 778.4,527.2 779.2,526.1 780.0,525.1 780.8,524.0 781.6,522.9 782.4,521.8 783.2,520.7 784.0,519.6 784.8,518.5 785.6,517.4 786.4,516.3 787.2,515.2 788.0,514.1 788.8,513.1 789.6,512.0 790.4,510.9 791.2,509.8 792.0,508.7 792.9,507.5 793.8,506.3 794.7,505.1 795.6,503.9 796.4,502.7 797.3,501.5 798.2,500.2 799.1,499.0 800.0,497.8 800.9,496.6 801.8,495.4 802.7,494.2 803.6,493.0 804.4,491.8 805.3,490.6 806.2,489.4 807.1,488.2 808.0,487.0 808.9,485.8 809.8,484.6 810.7,483.4 811.6,482.2 812.4,481.0 813.3,479.8 814.2,478.6 815.1,477.4 816.0,476.2 816.9,475.0 817.8,473.8 818.7,472.6 819.6,471.5 820.4,470.3 821.3,469.1 822.2,467.9 823.1,466.7 824.0,465.5 824.9,464.3 825.8,463.1 826.7,462.0 827.6,460.8 828.4,459.6 829.3,458.4 830.2,457.2 831.1,456.0 832.0,454.9 832.9,453.7 833.8,452.5 834.7,451.3 835.6,450.1 836.4,449.0 837.3,447.8 838.2,446.6 839.1,445.4 840.0,444.3 840.9,443.1 841.8,441.9 842.7,440.8 843.6,439.6 844.4,438.4 845.3,437.2 846.2,436.1 847.1,434.9 848.0,433.7 848.9,432.6 849.8,431.4 850.7,430.2 851.6,429.1 852.4,427.9 853.3,426.7 854.2,425.6 855.1,424.4 856.0,423.2 856.9,422.1 857.8,420.9 858.7,419.7 859.6,418.6 860.4,417.4 861.3,416.3 862.2,415.1 863.1,413.9 864.0,412.8 864.9,411.6 865.8,410.4 866.7,409.3 867.6,408.1 868.4,407.0 869.3,405.8 870.2,404.6 871.1,403.5 872.0,402.3 872.9,401.1 873.8,400.0 874.7,398.8 875.6,397.7 876.4,396.5 877.3,395.3 878.2,394.2 879.1,393.0 880.0,391.8 880.9,390.7 881.8,389.5 882.7,388.4 883.6,387.2 884.4,386.0 885.3,384.9 886.2,383.7 887.1,382.5 888.0,381.4 888.9,380.2 889.8,379.0 890.7,377.9 891.6,376.7 892.4,375.5 893.3,374.4 894.2,373.2 895.1,372.0 896.0,370.9 896.9,369.7 897.8,368.5 898.7,367.3 899.6,366.2 900.4,365.0 901.3,363.8 902.2,362.7 903.1,361.5 904.0,360.3 904.9,359.1 905.8,358.0 906.7,356.8 907.6,355.6 908.4,354.4 909.3,353.2 910.2,352.1 911.1,350.9 912.0,349.7 912.9,348.5 913.8,347.3 914.7,346.1 915.6,345.0 916.4,343.8 917.3,342.6 918.2,341.4 919.1,340.2 920.0,339.0 920.9,338.0 921.7,336.9 922.6,335.9 923.4,334.8 924.3,333.8 925.0,332.5 925.6,331.2 926.3,329.9 927.0,328.6 927.7,327.3 928.4,326.0 929.0,324.7 929.7,323.4 930.9,322.6 932.1,321.9 933.3,321.1 934.7,321.0 936.0,320.9 937.4,320.8 938.8,320.7 939.4,319.8 940.0,318.9 940.6,318.0 941.8,317.4 943.1,316.8 944.3,316.2 945.8,316.0 947.2,315.9 948.7,315.7 949.6,315.0 950.6,314.2 951.5,313.5 952.2,312.5 952.9,311.4 953.5,310.4 954.2,309.4 955.1,308.4 956.1,307.4 957.0,306.4 957.9,305.3 958.8,304.1 959.7,303.0 960.6,301.9 961.5,300.7 962.5,299.6 963.4,298.5 964.3,297.3 965.2,296.2 966.1,295.0 967.0,293.9 967.9,292.8 968.8,291.6 969.7,290.5 970.6,289.3 971.6,288.2 972.5,287.0 973.4,285.9 974.3,284.8 975.2,283.6 976.1,282.5 977.0,281.3 977.9,280.2 978.8,279.0 979.7,277.9 980.6,276.7 981.6,275.6 982.5,274.4 983.4,273.2 984.3,272.1 985.2,270.9 986.1,269.8 987.0,268.6 987.9,267.5 988.8,266.3 989.7,265.1 990.6,264.0 991.6,262.8 992.5,261.6 993.4,260.5 994.3,259.3 995.2,258.1 996.1,257.0 997.0,255.8 997.9,254.7 998.8,253.5 999.7,252.3 1000.7,251.1 1001.6,250.0 1002.5,248.8 1003.4,247.6 1004.3,246.4 1005.2,245.3 1006.1,244.1 1007.0,242.9 1007.9,241.7 1008.8,240.5 1009.7,239.4 1010.7,238.2 1011.6,237.0 1012.5,235.8 1013.4,234.6 1014.3,233.4 1015.2,232.2 1016.1,231.1 1017.0,229.9 1017.9,228.7 1018.8,227.5 1019.7,226.3 1020.7,225.1 1021.6,223.9 1022.5,222.7 1023.3,221.6 1024.1,220.5 1024.9,219.5 1025.8,218.4 1026.6,217.3 1027.4,216.2 1028.2,215.1 1029.0,214.0 1029.8,213.0 1030.7,211.9 1031.5,210.8 1032.3,209.7 1033.1,208.6 1033.9,207.5 1034.8,206.4 1035.6,205.3 1036.4,204.2 1037.2,203.1 1038.0,202.0 1038.8,200.9 1039.7,199.8 1040.5,198.7 1041.3,197.6 1042.1,196.5 1042.9,195.4 1043.8,194.3 1044.6,193.2 1045.4,192.1 1046.2,191.0 1047.0,189.9 1047.8,188.8 1048.7,187.7 1049.5,186.6 1050.3,185.5 1051.1,184.4 1051.9,183.2 1052.8,182.1 1053.6,181.0 1054.4,179.9 1055.2,178.8 1056.0,177.7 1056.9,176.6 1057.7,175.5 1058.5,174.4 1059.4,173.3 1060.2,172.2 1061.0,171.1 1061.8,170.0 1062.7,168.9 1063.5,167.8 1064.6,166.8 1065.7,165.9 1066.8,164.9 1067.9,164.0 1069.0,163.0 1070.0,162.1 1071.0,161.1 1072.0,160.2 1073.0,159.8 1074.0,159.4 1075.0,159.0 1076.4,158.7 1077.8,158.4 1079.2,158.1 1080.6,157.8 1082.0,157.5 1083.4,157.2 1084.9,156.9 1086.3,156.6 1087.7,156.2 1089.2,155.9 1090.6,155.6 1092.0,155.4 1093.4,155.1 1094.8,154.9 1096.2,154.7 1097.6,154.4 1099.0,154.2 1100.2,153.9 1101.4,153.6 1102.6,153.4 1103.8,153.1 1105.0,152.8 1106.0,152.0 1107.0,151.2 1108.0,144.0 1108.0,122.4"/>
<polyline stroke="#ff8000" marker-start="url(#m3)" marker-mid="url(#m3)" marker-end="url(#m3)" points="207.5,990.2 208.9,989.8 210.2,989.4 211.6,989.0 213.0,988.6 214.2,988.1 215.3,987.5 216.5,987.0 217.6,986.4 218.8,985.9 219.9,985.1 221.1,984.3 222.2,983.5 223.3,982.6 224.5,981.8 225.6,981.0 226.5,979.9 227.3,978.8 228.2,977.7 229.1,976.6 229.9,975.6 230.8,974.5 231.6,973.4 232.5,972.3 233.3,971.1 234.2,969.8 235.1,968.6 235.9,967.4 236.8,966.2 237.6,965.0 238.5,963.7 239.3,962.5 240.3,961.6 241.2,960.8 242.2,960.0 243.2,959.1 244.5,958.9 245.8,958.8 247.1,958.6 248.0,957.5 248.8,956.5 249.7,955.4 250.5,954.3 251.4,953.3 252.2,952.2 253.1,951.1 253.9,950.1 254.8,949.0 255.7,948.0 256.5,947.0 257.4,946.0 258.2,945.0 259.1,944.0 260.0,943.0 260.8,942.0 261.7,941.0 262.7,939.9 263.6,938.9 264.6,937.8 265.6,936.7 266.5,935.6 267.5,934.6 268.5,933.5 269.5,932.4 270.4,931.4 271.4,930.3 272.4,929.3 273.4,928.4 274.3,927.4 275.3,926.5 276.3,925.5 277.3,924.4 278.2,923.4 279.2,922.3 280.2,921.2 281.1,920.1 282.1,919.1 283.1,918.0 284.1,916.9 285.0,915.9 286.0,914.8 287.2,914.1 288.4,913.3 289.6,912.6 290.9,911.9 292.1,911.2 293.3,910.5 294.5,909.7 295.7,909.0 296.8,908.4 298.0,907.8 299.1,907.2 300.2,906.6 301.4,906.0 302.5,905.4 303.8,904.9 305.1,904.5 306.4,904.0 307.7,903.6 309.0,903.1 310.3,902.7 311.6,902.2 312.9,901.8 314.2,901.4 315.5,900.9 316.8,900.5 318.1,900.0 319.5,899.5 320.9,899.0 322.3,898.5 323.7,898.0 325.1,897.5 326.5,897.0 327.9,896.5 329.3,896.0 330.7,895.4 332.1,894.9 333.5,894.4 334.8,893.9 336.2,893.4 337.5,892.8 338.8,892.3 340.1,891.8 341.5,891.3 342.8,890.7 344.1,890.2 345.4,889.6 346.8,889.1 348.1,888.5 349.4,887.9 350.8,887.4 352.1,886.8 353.4,886.2 354.7,885.6 356.1,885.1 357.4,884.5 358.7,883.9 360.0,883.3 361.4,882.7 362.7,882.1 364.0,881.5 365.4,880.9 366.7,880.3 368.0,879.7 369.3,879.0 370.7,878.4 372.0,877.8 373.3,877.2 374.7,876.5 376.0,875.9 377.3,875.2 378.6,874.6 380.0,873.9 381.3,873.3 382.6,872.6 383.9,872.0 385.3,871.3 386.6,870.6 387.9,869.9 389.3,869.3 390.6,868.6 391.9,867.9 393.2,867.2 394.6,866.5 395.9,865.8 397.2,865.1 398.4,864.5 399.5,863.9 400.6,863.2 401.8,862.6 402.9,862.0 404.0,861.4 405.2,860.8 406.3,860.1 407.5,859.5 408.6,858.9 409.7,858.2 410.9,857.6 412.0,856.9 413.1,856.3 414.3,855.6 415.4,855.0 416.6,854.3 417.7,853.6 418.8,853.0 420.0,852.3 421.1,851.7 422.2,851.0 423.4,850.3 424.5,849.6 425.7,848.9 426.8,848.2 427.9,847.6 429.1,846.9 430.2,846.2 431.4,845.5 432.5,844.7 433.6,844.0 434.8,843.3 435.9,842.6 437.0,841.9 438.2,841.2 439.3,840.4 440.5,839.7 441.6,839.0 442.7,838.3 443.9,837.5 445.0,836.8 446.1,836.0 447.3,835.3 448.4,834.5 449.6,833.8 450.7,833.0 451.8,832.3 453.0,831.5 454.1,830.7 455.2,829.9 456.4,829.2 457.5,828.4 458.7,827.6 459.8,826.8 460.9,826.0 462.1,825.2 463.2,824.4 464.3,823.6 465.5,822.8 466.6,822.0 467.8,821.2 468.9,820.4 470.0,819.6 471.2,818.7 472.3,817.9 473.4,817.1 474.6,816.2 475.7,815.4 476.9,814.6 478.0,813.7 479.1,812.9 480.3,812.0 481.4,811.1 482.6,810.3 483.7,809.4 484.8,808.6 486.0,807.7 487.1,806.8 488.2,805.9 489.4,805.0 490.5,804.1 491.7,803.3 492.8,802.4 493.9,801.5 495.1,800.6 496.2,799.6 497.3,798.7 498.5,797.8 499.6,796.9 500.8,796.0 501.9,795.1 503.0,794.1 504.2,793.2 505.3,792.2 506.4,791.3 507.6,790.4 508.7,789.4 509.9,788.5 511.0,787.5 512.1,786.5 513.3,785.6 514.4,784.6 515.5,783.6 516.7,782.6 517.7,781.8 518.7,780.9 519.7,780.0 520.7,779.2 521.7,778.3 522.7,777.4 523.7,776.5 524.6,775.7 525.6,774.8 526.6,773.9 527.6,773.0 528.6,772.1 529.6,771.2 530.6,770.3 531.6,769.4 532.6,768.5 533.6,767.6 534.6,766.7 535.6,765.7 536.6,764.8 537.6,763.9 538.6,763.0 539.6,762.0 540.6,761.1 541.6,760.2 542.6,759.2 543.6,758.3 544.6,757.3 545.6,756.4 546.6,755.4 547.5,754.5 548.5,753.5 549.5,752.5 550.5,751.6 551.5,750.6 552.5,749.6 553.5,748.6 554.5,747.7 555.5,746.7 556.5,745.7 557.5,744.7 558.5,743.7 559.5,742.7 560.5,741.7 561.5,740.7 562.5,739.7 563.5,738.7 564.5,737.7 565.5,736.6 566.5,735.6 567.5,734.6 568.5,733.6 569.5,732.5 570.4,731.5 571.4,730.5 572.4,729.4 573.4,728.4 574.4,727.3 575.4,726.3 576.4,725.2 577.4,724.2 578.4,723.1 579.4,722.1 580.4,721.0 581.4,719.9 582.4,718.8 583.4,717.8 584.4,716.7 585.4,715.6 586.4,714.5 587.4,713.4 588.4,712.4 589.4,711.3 590.4,710.2 591.4,709.1 592.3,708.0 593.3,706.9 594.3,705.8 595.3,704.7 596.3,703.6 597.2,702.6 598.1,701.6 599.0,700.6 599.9,699.6 600.8,698.6 601.6,697.6 602.5,696.6 603.4,695.6 604.3,694.6 605.2,693.5 606.1,692.5 606.9,691.5 607.8,690.5 608.7,689.5 609.6,688.5 610.5,687.4 611.4,686.4 612.3,685.4 613.1,684.4 614.0,683.3 614.9,682.3 615.8,681.3 616.7,680.2 617.6,679.2 618.5,678.2 619.3,677.1 620.2,676.1 621.1,675.1 622.0,674.0 622.9,673.0 623.8,671.9 624.6,670.9 625.5,669.8 626.4,668.7 627.3,667.7 628.2,666.6 629.1,665.6 630.0,664.5 630.8,663.5 631.7,662.4 632.6,661.3 633.5,660.3 634.4,659.2 635.3,658.1 636.2,657.1 637.0,656.0 637.9,654.9 638.8,653.8 639.7,652.7 640.6,651.7 641.5,650.6 642.3,649.5 643.2,648.4 644.1,647.3 645.0,646.2 645.9,645.1 646.8,644.1 647.7,643.0 648.5,641.9 649.4,640.8 650.3,639.7 651.2,638.6 652.1,637.5 653.0,636.4 653.9,635.3 654.7,634.2 655.6,633.1 656.5,632.0 657.4,630.9 658.3,629.8 659.2,628.7 660.0,627.5 660.9,626.4 661.8,625.3 662.7,624.2 663.6,623.1 664.5,622.0 665.4,620.8 666.2,619.7 667.1,618.6 668.0,617.5 668.9,616.4 669.8,615.2 670.7,614.1 671.6,613.0 672.4,611.9 673.3,610.7 674.2,609.6 675.1,608.5 676.0,607.4 676.9,606.2 677.7,605.1 678.6,603.9 679.5,602.8 680.4,601.7 681.3,600.5 682.2,599.4 683.1,598.3 683.9,597.1 684.8,596.0 685.7,594.8 686.6,593.7 687.5,592.6 688.4,591.4 689.3,590.3 690.1,589.1 691.0,588.0 691.9,586.8 692.8,585.7 693.7,584.5 694.6,583.4 695.4,582.2 696.3,581.1 697.2,579.9 698.1,578.8 699.0,577.6 699.9,576.5 700.8,575.3 701.6,574.2 702.5,573.0 703.4,571.8 704.3,570.7 705.2,569.5 706.1,568.4 706.9,567.2 707.8,566.1 708.7,564.9 709.6,563.7 710.5,562.6 711.4,561.4 712.3,560.2 713.1,559.1 714.0,557.9 714.9,556.8 715.8,555.6 716.7,554.4 717.6,553.3 718.5,552.1 719.3,550.9 720.2,549.8 721.1,548.6 722.0,547.4 722.9,546.3 723.8,545.1 724.6,543.9 725.5,542.8 726.4,541.6 727.3,540.4 728.2,539.2 729.1,538.1 730.0,536.9 730.8,535.7 731.7,534.6 732.6,533.4 733.5,532.2 734.4,531.0 735.3,529.9 736.2,528.7 737.0,527.5 737.9,526.3 738.8,525.2 739.7,524.0 740.6,522.8 741.5,521.6 742.3,520.5 743.2,519.3 744.1,518.1 745.0,516.9 745.9,515.8 746.8,514.6 747.7,513.4 748.5,512.2 749.4,511.1 750.3,509.9 751.2,508.7 752.1,507.5 753.0,506.3 753.9,505.2 754.7,504.0 755.6,502.8 756.5,501.6 757.4,500.4 758.3,499.3 759.2,498.1 760.0,496.9 760.9,495.7 761.8,494.5 762.7,493.3 763.6,492.2 764.5,491.0 765.4,489.8 766.2,488.6 767.1,487.4 768.0,486.3 768.9,485.1 769.8,483.9 770.7,482.7 771.6,481.5 772.4,480.3 773.3,479.2 774.2,478.0 775.1,476.8 776.0,475.6 776.9,474.4 777.7,473.2 778.6,472.0 779.5,470.9 780.4,469.7 781.3,468.5 782.2,467.3 783.1,466.1 783.9,464.9 784.8,463.8 785.7,462.6 786.6,461.4 787.5,460.2 788.4,459.0 789.2,457.8 790.1,456.6 791.0,455.5 791.9,454.3 792.8,453.1 793.7,451.9 794.6,450.7 795.4,449.5 796.3,448.4 797.2,447.2 798.1,446.0 799.0,444.8 799.9,443.6 800.8,442.4 801.6,441.2 802.5,440.1 803.4,438.9 804.3,437.7 805.2,436.5 806.1,435.3 806.9,434.1 807.8,433.0 808.7,431.8 809.6,430.6 810.5,429.4 811.4,428.2 812.3,427.0 813.1,425.9 814.0,424.7 814.9,423.5 815.8,422.3 816.7,421.1 817.6,419.9 818.5,418.8 819.3,417.6 820.2,416.4 821.1,415.2 822.0,414.0 822.9,412.8 823.8,411.7 824.6,410.5 825.5,409.3 826.4,408.1 827.3,406.9 828.2,405.8 829.1,404.6 830.0,403.4 830.8,402.2 831.7,401.0 832.6,399.9 833.5,398.7 834.4,397.5 835.3,396.3 836.2,395.1 837.0,394.0 837.9,392.8 838.8,391.6 839.7,390.4 840.6,389.3 841.5,388.1 842.3,386.9 843.2,385.7 844.1,384.5 845.0,383.4 845.9,382.2 846.8,381.0 847.7,379.8 848.5,378.7 849.4,377.5 850.3,376.3 851.2,375.1 852.1,374.0 853.0,372.8 853.9,371.6 854.7,370.4 855.6,369.3 856.5,368.1 857.4,366.9 858.3,365.8 859.2,364.6 860.0,363.4 860.9,362.2 861.8,361.1 862.7,359.9 863.6,358.7 864.5,357.5 865.4,356.4 866.2,355.2 867.1,354.0 868.0,352.9 868.9,351.7 869.8,350.5 870.7,349.4 871.6,348.2 872.4,347.0 873.3,345.8 874.2,344.7 875.1,343.5 876.0,342.3 876.9,341.2 877.7,340.0 878.6,338.8 879.5,337.7 880.4,336.5 881.3,335.3 882.2,334.2 883.1,333.0 883.9,331.8 884.8,330.7 885.7,329.5 886.6,328.3 887.5,327.2 888.4,326.0 889.2,324.8 890.1,323.7 891.0,322.5 891.9,321.3 892.8,320.2 893.7,319.0 894.6,317.9 895.4,316.7 896.3,315.5 897.2,314.4 898.1,313.2 899.0,312.0 899.9,310.9 900.8,309.7 901.6,308.6 902.5,307.4 903.4,306.2 904.3,305.1 905.2,303.9 906.1,302.8 906.9,301.6 907.8,300.4 908.7,299.3 909.6,298.1 910.5,297.0 911.4,295.8 912.3,294.6 913.1,293.5 914.0,292.3 914.9,291.2 915.8,290.0 916.7,288.8 917.6,287.7 918.5,286.5 919.3,285.4 920.2,284.2 921.1,283.1 922.0,281.9 922.9,280.8 923.8,279.6 924.6,278.4 925.5,277.3 926.4,276.1 927.3,275.0 928.2,273.8 929.1,272.7 930.0,271.5 930.8,270.4 931.7,269.2 932.6,268.1 933.5,266.9 934.4,265.8 935.3,264.6 936.2,263.4 937.0,262.3 937.9,261.1 938.8,260.0 939.7,258.8 940.6,257.7 941.5,256.5 942.3,255.4 943.2,254.2 944.1,253.1 945.0,251.9 945.9,250.8 946.8,249.6 947.7,248.5 948.5,247.3 949.4,246.2 950.3,245.1 951.2,243.9 952.1,242.8 953.0,241.6 953.9,240.5 954.7,239.3 955.6,238.2 956.5,237.0 957.4,235.9 958.3,234.7 959.2,233.6 960.0,232.4 960.9,231.3 961.8,230.2 962.7,229.0 962.5,214.1 963.5,190.1"/>
<polyline stroke="#cc66ff" marker-start="url(#m4)" marker-mid="url(#m4)" marker-end="url(#m4)" points="194.5,996.5 195.9,996.5 197.2,996.5 198.6,996.5 200.0,996.5 201.3,996.5 202.6,996.4 203.9,996.4 205.1,996.3 206.4,996.3 207.7,996.2 209.0,996.2 210.2,995.8 211.3,995.3 212.5,994.9 213.7,994.4 214.8,994.0 216.0,993.5 217.1,992.8 218.3,992.1 219.4,991.4 220.6,990.6 221.7,989.9 222.9,989.2 224.0,988.5 225.1,987.8 226.3,987.1 227.4,986.4 228.6,985.6 229.7,984.9 230.9,984.2 232.0,983.5 233.0,982.6 234.0,981.6 235.0,980.7 236.0,979.8 237.0,978.8 238.0,977.9 239.0,976.9 240.0,976.0 241.0,974.9 242.0,973.8 243.0,972.7 244.0,971.6 245.0,970.4 246.0,969.3 247.0,968.2 248.0,967.1 249.0,966.0 249.9,964.9 250.7,963.7 251.6,962.6 252.4,961.4 253.3,960.3 254.1,959.1 255.0,958.0 255.8,956.9 256.6,955.9 257.4,954.8 258.1,953.7 258.9,952.6 259.7,951.6 260.5,950.5 261.5,949.5 262.5,948.5 263.5,947.5 264.5,946.5 265.5,945.5 266.5,944.5 267.5,943.5 268.5,942.5 269.5,941.5 270.5,940.6 271.5,939.6 272.5,938.7 273.5,937.8 274.5,936.8 275.5,935.9 276.5,934.9 277.5,934.0 278.6,933.1 279.6,932.1 280.7,931.2 281.8,930.3 282.9,929.4 283.9,928.4 285.0,927.5 286.0,926.5 287.0,925.5 288.0,924.5 289.0,923.5 290.0,922.5 291.0,921.5 292.0,920.5 293.0,919.5 294.2,918.6 295.3,917.7 296.5,916.8 297.7,915.8 298.8,914.9 300.0,914.0 301.2,913.4 302.5,912.8 303.8,912.1 305.0,911.5 306.2,910.9 307.5,910.2 308.8,909.6 310.0,909.0 311.2,908.5 312.5,908.0 313.8,907.5 315.0,907.0 316.2,906.5 317.5,906.0 318.8,905.5 320.0,905.0 321.3,904.5 322.7,904.0 324.0,903.5 325.3,903.0 326.7,902.5 328.0,902.0 329.3,901.5 330.7,901.1 332.0,900.6 333.4,900.1 334.7,899.6 336.0,899.1 337.4,898.7 338.7,898.2 340.0,897.7 341.4,897.2 342.7,896.8 344.0,896.3 345.4,895.8 346.7,895.3 348.0,894.8 349.4,894.3 350.7,893.8 352.1,893.3 353.4,892.8 354.7,892.3 356.1,891.8 357.4,891.3 358.7,890.8 360.1,890.2 361.4,889.7 362.7,889.1 364.1,888.6 365.4,888.0 366.7,887.5 368.1,886.9 369.4,886.3 370.8,885.7 372.1,885.1 373.4,884.5 374.8,883.9 376.1,883.3 377.4,882.6 378.8,882.0 380.1,881.3 381.4,880.7 382.8,880.0 384.1,879.3 385.3,878.8 386.4,878.2 387.5,877.6 388.7,877.0 389.8,876.4 391.0,875.8 392.1,875.2 393.5,874.6 394.8,873.9 396.1,873.2 397.5,872.5 398.8,871.8 400.1,871.1 401.5,870.5 402.8,869.8 404.1,869.1 405.5,868.5 406.8,867.8 408.2,867.1 409.3,866.5 410.4,865.9 411.6,865.4 412.7,864.8 413.9,864.2 415.0,863.6 416.2,863.0 417.3,862.4 418.5,861.7 419.6,861.1 420.7,860.4 421.9,859.8 423.0,859.2 424.2,858.5 425.3,857.8 426.5,857.2 427.6,856.5 428.8,855.8 429.9,855.1 431.0,854.4 432.2,853.7 433.3,853.1 434.5,852.5 435.6,851.8 436.8,851.2 437.9,850.5 439.1,849.9 440.2,849.2 441.5,848.6 442.9,847.9 444.2,847.2 445.6,846.5 446.9,845.8 448.2,845.2 449.4,844.5 450.5,843.9 451.7,843.3 452.8,842.7 453.9,842.1 455.1,841.5 456.2,840.9 457.4,840.1 458.5,839.4 459.7,838.7 460.8,837.9 462.0,837.2 463.1,836.4 464.2,835.7 465.4,834.8 466.5,833.9 467.7,833.1 468.8,832.2 470.0,831.3 471.1,830.4 472.3,829.5 473.4,828.7 474.6,827.8 475.7,826.9 476.8,826.1 478.0,825.2 479.1,824.3 480.3,823.4 481.4,822.6 482.6,821.8 483.7,821.0 484.9,820.2 486.0,819.4 487.1,818.6 488.3,817.8 489.4,817.0 490.6,816.3 491.7,815.5 492.9,814.7 494.0,814.0 495.2,813.2 496.3,812.4 497.5,811.6 498.6,810.9 499.7,810.1 500.9,809.3 502.0,808.5 503.2,807.7 504.3,807.0 505.5,806.1 506.6,805.3 507.8,804.5 508.9,803.7 510.0,802.9 511.2,802.1 512.3,801.3 513.5,800.5 514.6,799.6 515.8,798.8 516.9,797.9 518.1,797.1 519.2,796.3 520.3,795.4 521.5,794.5 522.6,793.7 523.8,792.8 524.9,791.9 526.1,791.1 527.2,790.2 528.4,789.3 529.5,788.4 530.7,787.5 531.8,786.6 532.9,785.7 534.1,784.8 535.2,783.9 536.4,783.0 537.5,782.1 538.7,781.2 539.8,780.2 541.0,779.3 542.1,778.4 543.2,777.4 544.4,776.5 545.5,775.5 546.7,774.6 547.8,773.6 549.0,772.7 550.1,771.7 551.3,770.7 552.4,769.8 553.4,768.9 554.4,768.0 555.4,767.2 556.4,766.3 557.4,765.4 558.4,764.6 559.4,763.7 560.4,762.8 561.4,762.0 562.4,761.1 563.4,760.2 564.4,759.3 565.4,758.4 566.4,757.5 567.4,756.6 568.4,755.7 569.4,754.8 570.4,753.9 571.4,752.9 572.4,752.0 573.4,751.1 574.4,750.2 575.4,749.3 576.4,748.3 577.4,747.4 578.4,746.5 579.4,745.5 580.5,744.6 581.5,743.6 582.5,742.7 583.5,741.7 584.5,740.8 585.5,739.8 586.5,738.8 587.5,737.9 588.5,736.9 589.5,735.9 590.5,735.0 591.5,734.0 592.5,733.0 593.5,732.0 594.5,731.0 595.5,730.0 596.5,729.0 597.5,728.0 598.5,727.0 599.5,726.0 600.5,725.1 601.5,724.0 602.5,723.0 603.5,722.0 604.5,721.0 605.5,719.9 606.5,718.9 607.5,717.9 608.5,716.9 609.5,715.8 610.5,714.8 611.5,713.7 612.5,712.7 613.5,711.6 614.5,710.6 615.5,709.5 616.5,708.5 617.5,707.4 618.5,706.3 619.5,705.3 620.5,704.2 621.5,703.1 622.5,702.1 623.5,701.0 624.5,699.9 625.5,698.8 626.5,697.7 627.5,696.6 628.5,695.5 629.5,694.4 630.5,693.3 631.5,692.2 632.5,691.1 633.4,690.1 634.3,689.1 635.2,688.1 636.1,687.1 637.0,686.1 637.9,685.1 638.8,684.1 639.7,683.1 640.6,682.2 641.4,681.1 642.3,680.1 643.2,679.1 644.1,678.1 645.0,677.1 645.9,676.0 646.8,675.0 647.7,674.0 648.6,673.0 649.5,671.9 650.4,670.9 651.2,669.9 652.1,668.8 653.0,667.8 653.9,666.8 654.8,665.7 655.7,664.7 656.6,663.6 657.5,662.6 658.4,661.5 659.3,660.5 660.1,659.4 661.0,658.3 661.9,657.3 662.8,656.2 663.7,655.2 664.6,654.1 665.5,653.0 666.4,652.0 667.3,650.9 668.2,649.8 669.0,648.7 669.9,647.7 670.8,646.6 671.7,645.5 672.6,644.5 673.5,643.4 674.4,642.3 675.3,641.2 676.2,640.1 677.1,639.0 678.0,637.9 678.8,636.8 679.7,635.7 680.6,634.6 681.5,633.5 682.4,632.4 683.3,631.3 684.2,630.2 685.1,629.1 686.0,628.0 686.9,626.9 687.7,625.8 688.6,624.7 689.5,623.6 690.4,622.5 691.3,621.3 692.2,620.2 693.1,619.1 694.0,618.0 694.9,616.9 695.8,615.7 696.7,614.6 697.5,613.5 698.4,612.4 699.3,611.2 700.2,610.1 701.1,609.0 702.0,607.8 702.9,606.7 703.8,605.6 704.7,604.4 705.6,603.3 706.4,602.1 707.3,601.0 708.2,599.9 709.1,598.7 710.0,597.6 710.9,596.4 711.8,595.3 712.7,594.1 713.6,593.0 714.5,591.8 715.4,590.7 716.2,589.5 717.1,588.4 718.0,587.2 718.9,586.1 719.8,584.9 720.7,583.8 721.6,582.6 722.5,581.4 723.4,580.3 724.3,579.1 725.1,578.0 726.0,576.8 726.9,575.6 727.8,574.5 728.7,573.3 729.6,572.1 730.5,571.0 731.4,569.8 732.3,568.6 733.2,567.5 734.1,566.3 734.9,565.1 735.8,564.0 736.7,562.8 737.6,561.6 738.5,560.4 739.4,559.3 740.3,558.1 741.2,556.9 742.1,555.7 743.0,554.5 743.8,553.4 744.7,552.2 745.6,551.0 746.5,549.8 747.4,548.7 748.3,547.5 749.2,546.3 750.1,545.1 751.0,543.9 751.9,542.7 752.8,541.6 753.6,540.4 754.5,539.2 755.4,538.0 756.3,536.8 757.2,535.6 758.1,534.4 759.0,533.3 759.9,532.1 760.8,530.9 761.7,529.7 762.5,528.5 763.4,527.3 764.3,526.1 765.2,524.9 766.1,523.8 767.0,522.6 767.9,521.4 768.8,520.2 769.7,519.0 770.6,517.8 771.4,516.6 772.3,515.4 773.2,514.2 774.1,513.1 775.0,511.9 775.9,510.7 776.8,509.5 777.7,508.3 778.6,507.1 779.5,505.9 780.4,504.7 781.2,503.5 782.1,502.3 783.0,501.1 783.9,500.0 784.8,498.8 785.7,497.6 786.6,496.4 787.5,495.2 788.4,494.0 789.3,492.8 790.1,491.6 791.0,490.4 791.9,489.2 792.8,488.1 793.7,486.9 794.6,485.7 795.5,484.5 796.4,483.3 797.3,482.1 798.2,480.9 799.1,479.7 799.9,478.5 800.8,477.4 801.7,476.2 802.6,475.0 803.5,473.8 804.4,472.6 805.3,471.4 806.2,470.2 807.1,469.0 808.0,467.9 808.8,466.7 809.7,465.5 810.6,464.3 811.5,463.1 812.4,461.9 813.3,460.7 814.2,459.6 815.1,458.4 816.0,457.2 816.9,456.0 817.8,454.8 818.6,453.6 819.5,452.4 820.4,451.3 821.3,450.1 822.2,448.9 823.1,447.7 824.0,446.5 824.9,445.3 825.8,444.2 826.7,443.0 827.5,441.8 828.4,440.6 829.3,439.4 830.2,438.2 831.1,437.1 832.0,435.9 832.9,434.7 833.8,433.5 834.7,432.3 835.6,431.1 836.5,430.0 837.3,428.8 838.2,427.6 839.1,426.4 840.0,425.2 840.9,424.1 841.8,422.9 842.7,421.7 843.6,420.5 844.5,419.3 845.4,418.2 846.2,417.0 847.1,415.8 848.0,414.6 848.9,413.4 849.8,412.2 850.7,411.1 851.6,409.9 852.5,408.7 853.4,407.5 854.3,406.3 855.1,405.2 856.0,404.0 856.9,402.8 857.8,401.6 858.7,400.4 859.6,399.3 860.5,398.1 861.4,396.9 862.3,395.7 863.2,394.5 864.1,393.4 864.9,392.2 865.8,391.0 866.7,389.8 867.6,388.7 868.5,387.5 869.4,386.3 870.3,385.1 871.2,383.9 872.1,382.8 873.0,381.6 873.8,380.4 874.7,379.2 875.6,378.0 876.5,376.9 877.4,375.7 878.3,374.5 879.2,373.3 880.1,372.1 881.0,371.0 881.9,369.8 882.8,368.6 883.6,367.4 884.5,366.2 885.4,365.0 886.3,363.8 887.2,362.7 888.1,361.5 889.0,360.3 889.9,359.1 890.8,357.9 891.7,356.7 892.5,355.5 893.4,354.3 894.3,353.1 895.2,351.9 896.1,350.7 897.0,349.5 898.0,348.5 898.9,347.4 899.9,346.4 900.8,345.4 901.8,344.3 902.7,343.3 903.8,342.3 904.9,341.3 905.9,340.3 907.0,339.3 908.2,338.7 909.4,338.1 910.6,337.5 911.8,336.9 913.0,336.3 914.3,336.2 915.7,336.1 917.0,336.0 918.3,335.8 919.7,335.7 921.0,335.6 922.4,335.2 923.9,334.9 925.3,334.5 926.2,329.2 927.0,324.0"/>
</g>
<rect x="223" y="52" width="259" height="328" fill="#fff"/>
<g fill="#000"><rect x="223" y="52" width="3" height="328"/><rect x="480" y="52" width="2" height="328"/><rect x="223" y="52" width="259" height="2"/><rect x="223" y="378" width="259" height="2"/></g>
<path d="M243.3 112.0H382.7" stroke="#009292" stroke-width="4.6" stroke-linecap="round"/>
<circle cx="312.5" cy="112.0" r="12" fill="#009292"/>
<text class="lg" text-anchor="start" transform="translate(397.3 132.7) scale(0.980 1.020)">A1</text>
<path d="M243.3 189.2H382.7" stroke="#ff007f" stroke-width="4.6" stroke-linecap="round"/>
<rect x="302.5" y="179.2" width="20" height="20" fill="#ff007f"/>
<text class="lg" text-anchor="start" transform="translate(397.3 209.9) scale(0.980 1.020)">A2</text>
<path d="M243.3 266.4H382.7" stroke="#ff8000" stroke-width="4.6" stroke-linecap="round"/>
<path d="M299.0 258.4H326.0L312.5 282.4Z" fill="#ff8000"/>
<text class="lg" text-anchor="start" transform="translate(397.3 287.1) scale(0.980 1.020)">A3</text>
<path d="M243.3 343.5H382.7" stroke="#cc66ff" stroke-width="4.6" stroke-linecap="round"/>
<path d="M299.0 351.5H326.0L312.5 327.5Z" fill="#cc66ff"/>
<text class="lg" text-anchor="start" transform="translate(397.3 364.2) scale(0.980 1.020)">A4</text>
</svg></body></html>
